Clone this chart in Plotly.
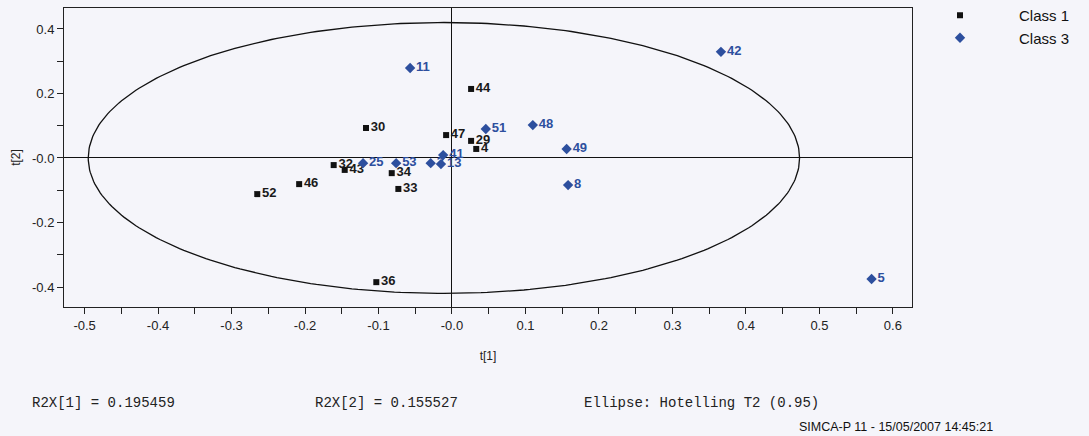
import numpy as np
import plotly.graph_objects as go

# Score values t[1], t[2] per observation
class1_ids = ["44", "30", "47", "29", "4", "32", "43", "34", "33", "46", "52", "36"]
class1_t1 = [0.026, -0.117, -0.008, 0.026, 0.033, -0.161, -0.146, -0.082, -0.073, -0.208, -0.265, -0.103]
class1_t2 = [0.214, 0.093, 0.071, 0.053, 0.028, -0.022, -0.037, -0.047, -0.096, -0.081, -0.112, -0.385]

class3_ids = ["11", "42", "51", "48", "49", "8", "5", "25", "53", "3", "41", "13"]
class3_t1 = [-0.057, 0.366, 0.046, 0.110, 0.156, 0.158, 0.571, -0.121, -0.076, -0.029, -0.012, -0.015]
class3_t2 = [0.279, 0.329, 0.090, 0.102, 0.028, -0.084, -0.375, -0.016, -0.016, -0.016, 0.009, -0.019]

x_tick_vals = [-0.5, -0.4, -0.3, -0.2, -0.1, 0.0, 0.1, 0.2, 0.3, 0.4, 0.5, 0.6]
x_tick_text = ["-0.5", "-0.4", "-0.3", "-0.2", "-0.1", "-0.0", "0.1", "0.2", "0.3", "0.4", "0.5", "0.6"]
y_tick_vals = [-0.4, -0.2, 0.0, 0.2, 0.4]
y_tick_text = ["-0.4", "-0.2", "-0.0", "0.2", "0.4"]

# Hotelling T2 (0.95) ellipse
ell_cx, ell_cy = -0.011, 0.0
ell_a, ell_b = 0.484, 0.420

r2x_1 = 0.195459
r2x_2 = 0.155527

BLUE = "#2d4f9e"
BG = "#f5f5fa"
FONT = "Liberation Sans, Arial, sans-serif"

W, H = 1089, 436
ML, MR, MT, MB = 64, 177, 8, 129
PW, PH = W - ML - MR, H - MT - MB


def px_to_paper(xp, yp):
    """Convert page pixel position to plot-area paper coordinates."""
    return (xp - ML) / PW, (H - MB - yp) / PH


theta = np.linspace(0, 2 * np.pi, 361)

fig = go.Figure()

fig.add_trace(go.Scatter(
    x=ell_cx + ell_a * np.cos(theta), y=ell_cy + ell_b * np.sin(theta),
    mode="lines", line=dict(color="#111111", width=1.3),
    showlegend=False, hoverinfo="skip"))

fig.add_trace(go.Scatter(
    x=class1_t1, y=class1_t2, text=class1_ids, name="Class 1",
    mode="markers+text", textposition="middle right",
    marker=dict(symbol="square", size=6, color="#111111"),
    textfont=dict(family=FONT, size=13, color="#1a1a1a", weight="bold")))

fig.add_trace(go.Scatter(
    x=class3_t1, y=class3_t2, text=class3_ids, name="Class 3",
    mode="markers+text", textposition="middle right",
    marker=dict(symbol="diamond", size=8, color=BLUE),
    textfont=dict(family=FONT, size=13, color=BLUE, weight="bold")))

axis_common = dict(
    showgrid=False, zeroline=True, zerolinecolor="#111111", zerolinewidth=1.2,
    showline=True, linecolor="#222222", linewidth=1, mirror=True,
    ticks="outside", ticklen=6, tickcolor="#222222",
    tickfont=dict(family=FONT, size=13, color="#222222"),
    minor=dict(ticks="outside", ticklen=6, tickcolor="#222222"),
)

fig.update_xaxes(
    range=[-0.528, 0.626], tickmode="array", tickvals=x_tick_vals, ticktext=x_tick_text,
    minor_dtick=0.05,
    title=dict(text="t[1]", font=dict(family=FONT, size=12, color="#222222"), standoff=20),
    **axis_common)
fig.update_yaxes(
    range=[-0.462, 0.465], tickmode="array", tickvals=y_tick_vals, ticktext=y_tick_text,
    minor_dtick=0.1,
    title=dict(text="t[2]", font=dict(family=FONT, size=12, color="#222222"), standoff=8),
    **axis_common)

mono = dict(family="Liberation Mono, DejaVu Sans Mono, monospace", size=14, color="#222222")
for txt, xpix in [(f"R2X[1] = {r2x_1}", 30), (f"R2X[2] = {r2x_2}", 313),
                  ("Ellipse: Hotelling T2 (0.95)", 582)]:
    ax, ay = px_to_paper(xpix, 403)
    fig.add_annotation(x=ax, y=ay, xref="paper", yref="paper",
                       xanchor="left", yanchor="middle", text=txt, showarrow=False, font=mono)

sx, sy = px_to_paper(995, 427)
fig.add_annotation(x=sx, y=sy, xref="paper", yref="paper",
                   xanchor="right", yanchor="middle", showarrow=False,
                   text="SIMCA-P 11 - 15/05/2007 14:45:21",
                   font=dict(family=FONT, size=12.5, color="#111111"))

lx, ly = px_to_paper(901, -1)
fig.update_layout(
    width=W, height=H,
    margin=dict(l=ML, r=MR, t=MT, b=MB, autoexpand=False),
    paper_bgcolor=BG, plot_bgcolor=BG,
    font=dict(family=FONT),
    legend=dict(x=lx, y=ly, xanchor="left", yanchor="top", bgcolor="rgba(0,0,0,0)",
                itemwidth=108, tracegroupgap=0,
                font=dict(family=FONT, size=15, color="#111111")),
)

fig.write_html("out.html")
